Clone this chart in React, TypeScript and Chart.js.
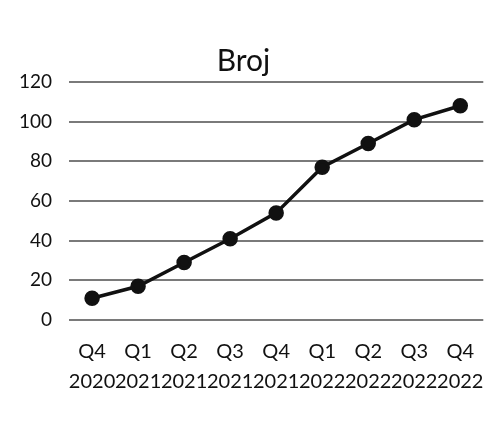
import React, { useEffect, useRef } from "react";
import { Chart, registerables } from "chart.js";

Chart.register(...registerables);

const quarters = ["Q4", "Q1", "Q2", "Q3", "Q4", "Q1", "Q2", "Q3", "Q4"];
const years = ["2020", "2021", "2021", "2021", "2021", "2022", "2022", "2022", "2022"];
const values = [11, 17, 29, 41, 54, 77, 89, 101, 108];
const yTicks = [0, 20, 40, 60, 80, 100, 120];
const titleText = "Broj";

export default function App() {
  const ref = useRef<HTMLCanvasElement | null>(null);
  useEffect(() => {
    if (!ref.current) return;
    const labels = quarters.map((q, i) => [q, years[i]]);
    const chart = new Chart(ref.current, {
      type: "line",
      data: {
        labels,
        datasets: [
          {
            data: values,
            borderColor: "#111",
            backgroundColor: "#111",
            borderWidth: 3.5,
            pointRadius: 6,
            pointHoverRadius: 6,
            pointBackgroundColor: "#111",
            pointBorderColor: "#111",
            tension: 0,
          },
        ],
      },
      options: {
        animation: false,
        responsive: false,
        maintainAspectRatio: false,
        layout: { padding: { top: 43, left: 2, right: 8, bottom: 20 } },
        plugins: {
          legend: { display: false },
          tooltip: { enabled: false },
          title: {
            display: true,
            text: titleText,
            color: "#111",
            font: { family: "Lato", size: 30, weight: "normal" },
            padding: { top: 0, bottom: 3 },
          },
        },
        scales: {
          x: {
            offset: true,
            grid: { display: false },
            border: { display: false },
            ticks: {
              autoSkip: false,
              maxRotation: 0,
              minRotation: 0,
              padding: 9,
              color: "#111",
              font: { family: "Lato", size: 20, lineHeight: 1.5 },
            },
          },
          y: {
            min: 0,
            max: 120,
            afterBuildTicks: (axis: any) => {
              axis.ticks = yTicks.map((v) => ({ value: v }));
            },
            grid: { color: "#7a7a7a", lineWidth: 2, drawTicks: false },
            border: { display: false },
            ticks: {
              padding: 17,
              color: "#111",
              font: { family: "Lato", size: 19 },
            },
          },
        },
      },
    });
    return () => chart.destroy();
  }, []);
  return (
    <div style={{ position: "absolute", left: 0, top: 0, width: 493, height: 426, background: "#fff" }}>
      <canvas ref={ref} width={493} height={426} style={{ width: 493, height: 426 }} />
    </div>
  );
}
